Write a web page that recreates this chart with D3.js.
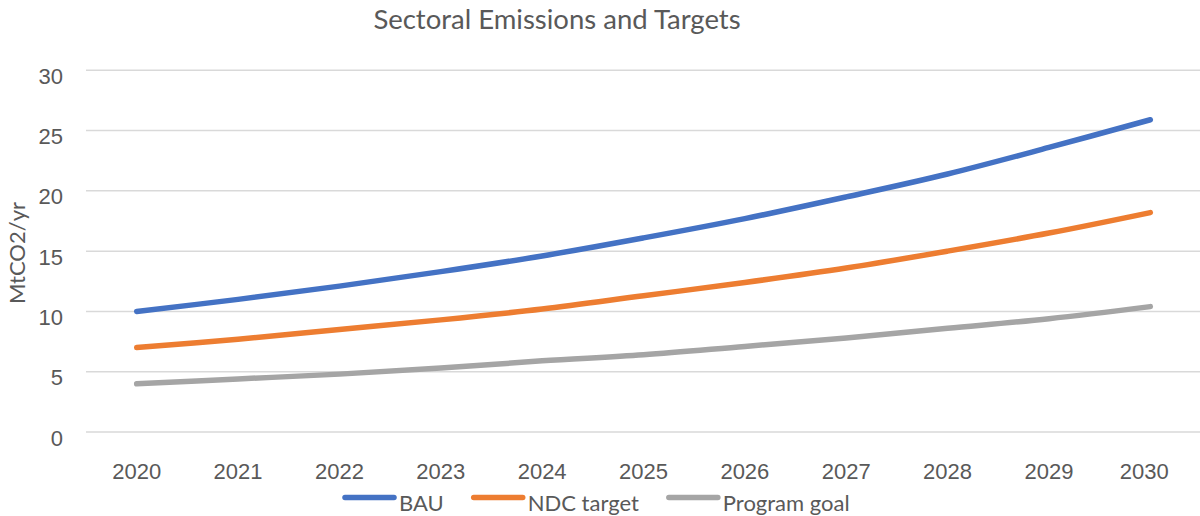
<!DOCTYPE html>
<html>
<head>
<meta charset="utf-8">
<script src="https://cdn.jsdelivr.net/npm/d3@7"></script>
<style>
  html, body { margin: 0; padding: 0; background: #fff; }
  svg { display: block; font-family: Lato, "Open Sans", sans-serif; }
</style>
</head>
<body>
<svg id="chart" width="1200" height="516"></svg>
<script>
const years = ["2020","2021","2022","2023","2024","2025","2026","2027","2028","2029","2030"];
const bau = [10, 11, 12.1, 13.3, 14.6, 16.1, 17.7, 19.5, 21.4, 23.6, 25.9];
const ndc = [7, 7.7, 8.5, 9.3, 10.2, 11.3, 12.4, 13.6, 15.0, 16.5, 18.2];
const goal = [4, 4.4, 4.8, 5.3, 5.9, 6.4, 7.1, 7.8, 8.6, 9.4, 10.4];
const yTicks = [0, 5, 10, 15, 20, 25, 30];
const seriesNames = ["BAU", "NDC target", "Program goal"];
const seriesColors = ["#4472C4", "#ED7D31", "#A5A5A5"];
const title = "Sectoral Emissions and Targets";
const yLabel = "MtCO2/yr";

const series = [bau, ndc, goal].map((vals, i) => ({ name: seriesNames[i], color: seriesColors[i], values: vals }));

const svg = d3.select("#chart");
const textColor = "#595959";

const x = d3.scaleBand().domain(years).range([86, 1201]).padding(0);
const cx = d => x(d) + x.bandwidth() / 2;
const y = d3.scaleLinear().domain([0, 30]).range([432, 70.3]);

// gridlines
svg.append("g")
  .selectAll("line")
  .data(yTicks)
  .join("line")
  .attr("x1", 86).attr("x2", 1200)
  .attr("y1", d => y(d)).attr("y2", d => y(d))
  .attr("stroke", "#D9D9D9").attr("stroke-width", 1.5);

// y axis labels
const yAxis = d3.axisLeft(y).tickValues(yTicks).tickSize(0).tickPadding(0);
const yg = svg.append("g").attr("transform", "translate(63,0)").call(yAxis);
yg.select(".domain").remove();
yg.selectAll("text")
  .attr("fill", textColor)
  .style("font-size", "22px")
  .attr("dy", 0)
  .attr("y", 13);

// x axis labels
const xAxis = d3.axisBottom(x).tickSize(0).tickPadding(0);
const xg = svg.append("g").attr("transform", "translate(0,479)").call(xAxis);
xg.select(".domain").remove();
xg.selectAll("text")
  .attr("fill", textColor)
  .style("font-size", "22px")
  .attr("dy", 0)
  .attr("y", 0)
  .attr("dx", (d, i) => i === years.length - 1 ? -6 : 0);

// lines
const line = d3.line()
  .x((d, i) => cx(years[i]))
  .y(d => y(d))
  .curve(d3.curveCatmullRom.alpha(0.5));

svg.append("g")
  .selectAll("path")
  .data(series)
  .join("path")
  .attr("d", d => line(d.values))
  .attr("fill", "none")
  .attr("stroke", d => d.color)
  .attr("stroke-width", 5.5)
  .attr("stroke-linecap", "round")
  .attr("stroke-linejoin", "round");

// title
svg.append("text")
  .attr("x", 557).attr("y", 29)
  .attr("text-anchor", "middle")
  .attr("fill", textColor)
  .style("font-size", "27.5px")
  .text(title);

// y label
svg.append("text")
  .attr("transform", "translate(25,253) rotate(-90)")
  .attr("text-anchor", "middle")
  .attr("fill", textColor)
  .style("font-size", "22px")
  .text(yLabel);

// legend
const legend = svg.append("g").attr("transform", "translate(343,497.5)");
let offset = 0;
series.forEach((s, i) => {
  const g = legend.append("g").attr("transform", `translate(${offset},0)`);
  g.append("line")
    .attr("x1", 2).attr("x2", 51)
    .attr("y1", 0).attr("y2", 0)
    .attr("stroke", s.color).attr("stroke-width", 5.5)
    .attr("stroke-linecap", "round");
  const t = g.append("text")
    .attr("x", 56).attr("y", 13)
    .attr("fill", textColor)
    .style("font-size", "22px")
    .text(s.name);
  offset += 56 + t.node().getComputedTextLength() + 28;
});
</script>
</body>
</html>
